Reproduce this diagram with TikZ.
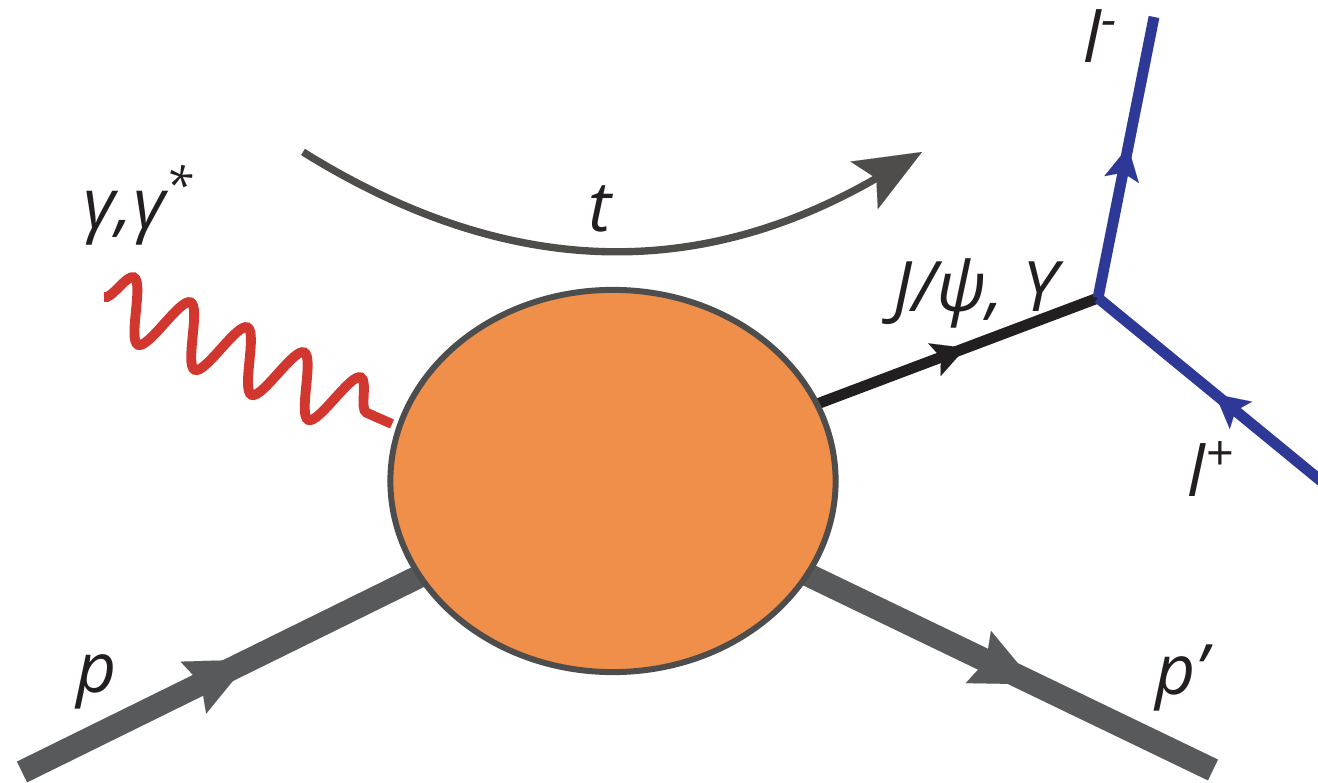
\documentclass[tikz,border=0pt]{standalone}
\usepackage{fontspec}
\setmainfont{Open Sans}
\usetikzlibrary{arrows.meta,decorations.markings,decorations.pathmorphing,shapes.geometric,backgrounds}
\definecolor{blobfill}{RGB}{240,143,74}
\definecolor{blobdraw}{RGB}{77,77,77}
\definecolor{protgray}{RGB}{88,89,91}
\definecolor{arcgray}{RGB}{78,77,74}
\definecolor{photred}{RGB}{209,55,47}
\definecolor{leptblue}{RGB}{46,56,150}
\definecolor{txt}{RGB}{35,31,32}
\begin{document}
\begin{tikzpicture}[x=0.01cm,y=-0.01cm,
  lab/.style={font=\fontsize{19.8pt}{23pt}\selectfont\itshape, text=txt, inner sep=0pt},
  proton/.style={protgray, line width=6.6pt, postaction={decorate},
    decoration={markings, mark=at position #1 with {\arrow{Stealth[length=18pt,width=16.5pt,inset=2.5pt,line width=0.01pt]}}}},
  thinline/.style={line width=3.1pt, postaction={decorate},
    decoration={markings, mark=at position #1 with {\arrow{Stealth[length=9.5pt,width=10pt,inset=2pt,line width=0.01pt]}}}},
  photon/.style={photred, line width=2.8pt, decorate,
    decoration={snake, segment length=0.62cm, amplitude=0.3cm}},
  tarrow/.style={arcgray, line width=2.1pt, -{Stealth[length=19pt,width=15.6pt,inset=4pt,line width=0.01pt]}}
]
\useasboundingbox (0,0) rectangle (1318,783);
\node[ellipse, draw=blobdraw, fill=blobfill, line width=1.7pt, inner sep=0pt,
      minimum width=4.45cm, minimum height=3.82cm] (blob) at (613,481) {};
\coordinate (pin) at (22,772);
\coordinate (pout) at (1213,770);
\coordinate (gs) at (104,297);
\coordinate (ge) at (392,424);
\coordinate (V) at (1098,298);
\coordinate (lm) at (1154,17);
\coordinate (lp) at (1332,490);
\coordinate (ts) at (303,152);
\coordinate (te) at (922,152);
\begin{scope}[on background layer]
  \draw[proton=0.386] (pin) -- (blob.center);
  \draw[proton=0.704] (blob.center) -- (pout);
  \draw[txt, thinline=0.727] (blob.center) -- (V);
  \draw[photon] (gs) -- (ge);
\end{scope}
\draw[leptblue, thinline=0.538] (V) -- (lm);
\draw[leptblue, thinline=0.5] (lp) -- (V);
\draw[tarrow] (ts) .. controls (515,284) and (705,277) .. (te);
\node[lab, anchor=base west] (lgam) at (83,229) {γ,γ\textsuperscript{*}};
\node[lab, anchor=base] (lt) at (600,232) {t};
\node[lab, anchor=base west] (lj) at (893,312) {J/ψ, Υ};
\node[lab, anchor=base west] (llm) at (1083,63) {l\textsuperscript{-}};
\node[lab, anchor=base west] (llp) at (1187,497) {l\textsuperscript{+}};
\node[lab, anchor=base west] (lpin) at (76,693) {p};
\node[lab, anchor=base west] (lpout) at (1155,695) {p’};
\end{tikzpicture}
\end{document}
